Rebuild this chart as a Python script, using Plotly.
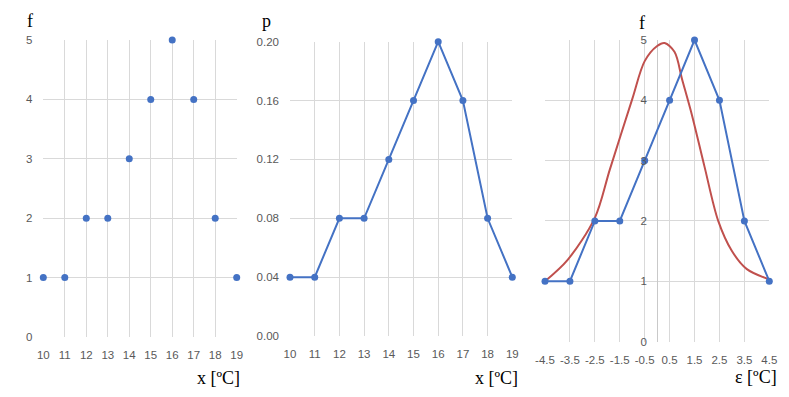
import plotly.graph_objects as go

# ---- data ----
x_temp = [10, 11, 12, 13, 14, 15, 16, 17, 18, 19]
freq = [1, 1, 2, 2, 3, 4, 5, 4, 2, 1]
prob = [0.04, 0.04, 0.08, 0.08, 0.12, 0.16, 0.20, 0.16, 0.08, 0.04]
eps = [-4.5, -3.5, -2.5, -1.5, -0.5, 0.5, 1.5, 2.5, 3.5, 4.5]
eps_labels = ["-4.5", "-3.5", "-2.5", "-1.5", "-0.5", "0.5", "1.5", "2.5", "3.5", "4.5"]
curve_x = [-4.5, -3.6, -2.5, -1.9, -1.0, -0.5, 0.0, 0.3, 0.7, 1.0, 1.4, 1.9, 2.45, 3.0, 3.6, 4.5]
curve_y = [1.0, 1.35, 2.05, 2.85, 4.02, 4.65, 4.9, 4.95, 4.8, 4.35, 3.75, 2.9, 2.0, 1.5, 1.2, 1.03]

# page body has an 8px margin: the figure is drawn at an 8px offset
OFF = 8
W, H = 789 - 2 * OFF, 397 - 2 * OFF
BLUE = "#4472C4"
RED = "#C0504D"
GRID = "#D9D9D9"
TICKC = "#595959"
tickfont = dict(family="Liberation Sans, Arial, sans-serif", size=11.5, color=TICKC)
serif = dict(family="Liberation Serif, Times New Roman, serif", size=18, color="#000000")

def px_x(p):
    return (p - OFF) / W

def px_y(p):
    return 1 - (p - OFF) / H

fig = go.Figure()

fig.add_trace(go.Scatter(x=x_temp, y=freq, mode="markers", xaxis="x", yaxis="y",
                         marker=dict(color=BLUE, size=7), cliponaxis=False, showlegend=False))
fig.add_trace(go.Scatter(x=x_temp, y=prob, mode="lines+markers", xaxis="x2", yaxis="y2",
                         line=dict(color=BLUE, width=2), marker=dict(color=BLUE, size=7),
                         cliponaxis=False, showlegend=False))
fig.add_trace(go.Scatter(x=curve_x, y=curve_y, mode="lines", xaxis="x3", yaxis="y3",
                         line=dict(color=RED, width=2, shape="spline", smoothing=0.9),
                         cliponaxis=False, showlegend=False))
fig.add_trace(go.Scatter(x=eps, y=freq, mode="lines+markers", xaxis="x3", yaxis="y3",
                         line=dict(color=BLUE, width=2), marker=dict(color=BLUE, size=7),
                         cliponaxis=False, showlegend=False))

common_x = dict(showgrid=True, gridcolor=GRID, gridwidth=1, zeroline=False, showline=False,
                ticks="", tickfont=tickfont, ticklabelstandoff=9, automargin=False)
common_y = dict(showgrid=True, gridcolor=GRID, gridwidth=1, zeroline=False, showline=False,
                ticks="", tickfont=tickfont, ticklabelstandoff=10, automargin=False)

fig.update_layout(
    template="none",
    width=W, height=H, margin=dict(l=0, r=0, t=0, b=0, autoexpand=False),
    paper_bgcolor="white", plot_bgcolor="white",
    xaxis=dict(domain=[px_x(43.3), px_x(236.7)], range=[10, 19], anchor="y",
               tickvals=x_temp, **common_x),
    yaxis=dict(domain=[px_y(337), px_y(40)], range=[0, 5], anchor="x",
               tickvals=[0, 1, 2, 3, 4, 5], **common_y),
    xaxis2=dict(domain=[px_x(290), px_x(512.3)], range=[10, 19], anchor="y2",
                tickvals=x_temp, **common_x),
    yaxis2=dict(domain=[px_y(336), px_y(41.7)], range=[0, 0.2], anchor="x2",
                tickvals=[0, 0.04, 0.08, 0.12, 0.16, 0.20], tickformat=".2f", **common_y),
    xaxis3=dict(domain=[px_x(545), px_x(769.3)], range=[-4.5, 4.5], anchor="y3",
                tickvals=eps, ticktext=eps_labels,
                showgrid=True, gridcolor=GRID, gridwidth=1, zeroline=True,
                zerolinecolor="#C9C9C9", zerolinewidth=1, showline=False,
                ticks="", tickfont=tickfont, ticklabelstandoff=10, automargin=False),
    yaxis3=dict(domain=[px_y(341.5), px_y(40)], range=[0, 5], anchor="free",
                position=px_x(657), tickvals=[0, 1, 2, 3, 4, 5], **common_y),
)

annots = [
    dict(x=px_x(30), y=px_y(21), text="f"),
    dict(x=px_x(266), y=px_y(21), text="p"),
    dict(x=px_x(642), y=px_y(23), text="f"),
    dict(x=px_x(219), y=px_y(378), text="x [ºC]"),
    dict(x=px_x(496), y=px_y(378), text="x [ºC]"),
    dict(x=px_x(756), y=px_y(377), text="ε [ºC]"),
]
for a in annots:
    fig.add_annotation(xref="paper", yref="paper", showarrow=False, font=serif,
                       xanchor="center", yanchor="middle", **a)

fig.write_html("out.html")
